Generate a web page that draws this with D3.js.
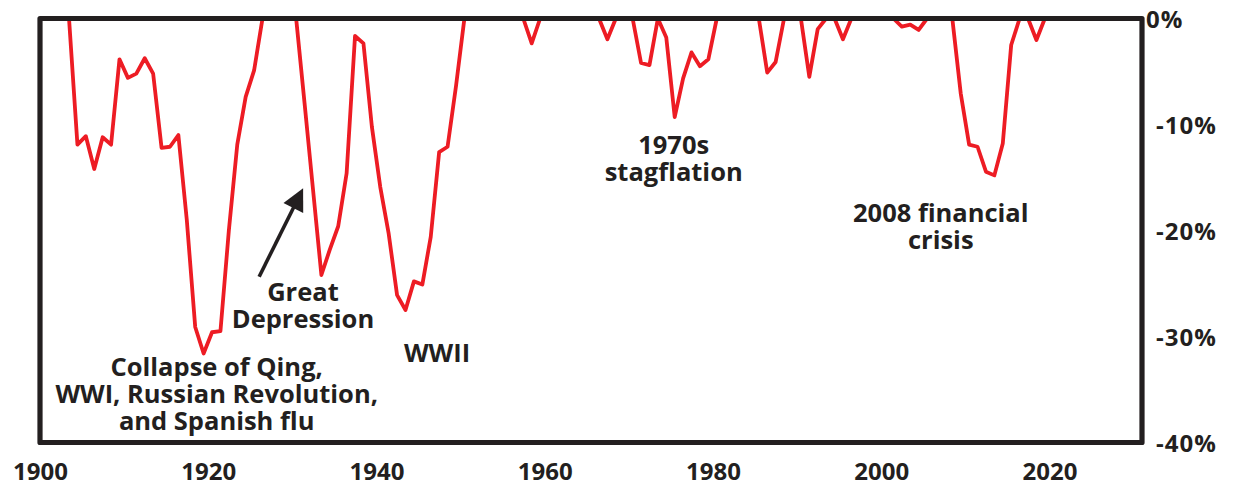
<!DOCTYPE html>
<html>
<head>
<meta charset="utf-8">
<script src="https://cdn.jsdelivr.net/npm/d3@7"></script>
<style>
  html, body { margin: 0; padding: 0; background: #fff; }
  svg { display: block; }
  text { font-family: "Open Sans", "Lato", sans-serif; font-weight: 700; fill: #231f20; }
</style>
</head>
<body>
<svg id="chart" width="1234" height="483"></svg>
<script>
// ---- Data ----
const years = d3.range(1900, 2021);
const drawdown = [
  0, 0, 0, 0, -11.9, -11.1, -14.2, -11.2, -11.9, -3.85,          // 1900-1909
  -5.6, -5.2, -3.75, -5.2, -12.2, -12.1, -11.0, -19.0, -29.1, -31.6, // 1910-1919
  -29.6, -29.5, -20.0, -11.9, -7.4, -4.9, 0, 0, 0, 0,            // 1920-1929
  0, -8.0, -16.1, -24.2, -21.8, -19.6, -14.6, -1.65, -2.35, -10.2, // 1930-1939
  -15.9, -20.3, -26.1, -27.5, -24.8, -25.1, -20.6, -12.6, -12.1, -6.4, // 1940-1949
  0, 0, 0, 0, 0, 0, 0, 0, -2.35, 0,                              // 1950-1959
  0, 0, 0, 0, 0, 0, 0, -1.96, 0, 0,                              // 1960-1969
  0, -4.2, -4.4, 0, -1.8, -9.3, -5.65, -3.2, -4.5, -3.85,        // 1970-1979
  0, 0, 0, 0, 0, 0, -5.1, -4.1, 0, 0,                            // 1980-1989
  0, -5.5, -1.0, 0, 0, -1.96, 0, 0, 0, 0,                        // 1990-1999
  0, 0, -0.77, -0.58, -1.08, 0, 0, 0, 0, -7.06,                  // 2000-2009
  -11.9, -12.1, -14.45, -14.8, -11.8, -2.5, 0, 0, -2.03, 0,      // 2010-2019
  0                                                              // 2020
];
const xTicks = [1900, 1920, 1940, 1960, 1980, 2000, 2020];
const yTicks = [0, -10, -20, -30, -40];
const yTickLabels = ["0%", "-10%", "-20%", "-30%", "-40%"];
const annotationTexts = [
  ["Collapse of Qing,", "WWI, Russian Revolution,", "and Spanish flu"],
  ["Great", "Depression"],
  ["WWII"],
  ["1970s", "stagflation"],
  ["2008 financial", "crisis"]
];
// anchors in data units (year, value) for first baseline
const annotationYears = [1921.0, 1931.26, 1947.2, 1975.33, 2007.08];
const annotationValues = [-33.73, -26.62, -32.38, -12.81, -19.23];
const arrowFrom = { year: 1926.05, value: -24.36 };
const arrowTo = { year: 1931.28, value: -16.02 };

// ---- Layout ----
const svg = d3.select("#chart");
const mLeft = 40, mRight = 1142, mTop = 18.5, mBottom = 442.5;
const x = d3.scaleLinear().domain([1900, 2031]).range([mLeft, mRight]);
const y = d3.scaleLinear().domain([0, -40]).range([mTop, mBottom]);
const yearOffset = 0.45;
const ink = "#231f20";
const red = "#ed1c24";

const series = years.map((yr, i) => ({ year: yr, value: drawdown[i] }));

const line = d3.line()
  .x(d => x(d.year + yearOffset))
  .y(d => y(Math.min(0, d.value)));

svg.append("defs").append("clipPath").attr("id", "clip")
  .append("rect").attr("x", mLeft).attr("y", mTop - 2).attr("width", mRight - mLeft).attr("height", mBottom - mTop + 2);

svg.append("path")
  .datum(series)
  .attr("d", line)
  .attr("fill", "none")
  .attr("stroke", red)
  .attr("stroke-width", 3.8)
  .attr("stroke-linejoin", "round")
  .attr("clip-path", "url(#clip)");

// frame
svg.append("rect")
  .attr("x", mLeft).attr("y", mTop)
  .attr("width", mRight - mLeft).attr("height", mBottom - mTop)
  .attr("fill", "none")
  .attr("stroke", ink)
  .attr("stroke-width", 5.2)
  .attr("stroke-linejoin", "round");

// x axis labels
const xAxis = d3.axisBottom(x).tickValues(xTicks).tickFormat(d3.format("d")).tickSize(0).tickPadding(0);
const gx = svg.append("g").attr("transform", `translate(0,${mBottom})`).call(xAxis);
gx.select(".domain").remove();
gx.selectAll("text")
  .attr("y", 37).attr("dy", null)
  .style("font-family", '"Open Sans", sans-serif')
  .style("font-weight", 700)
  .style("font-size", "24px")
  .attr("fill", ink);

// y axis labels
const yAxis = d3.axisRight(y).tickValues(yTicks).tickFormat((d, i) => yTickLabels[i]).tickSize(0).tickPadding(0);
const gy = svg.append("g").attr("transform", `translate(${mRight},0)`).call(yAxis);
gy.select(".domain").remove();
gy.selectAll("text")
  .attr("x", d => d === 0 ? 4 : 14)
  .attr("dy", "0.36em")
  .attr("text-anchor", "start")
  .style("font-family", '"Open Sans", sans-serif')
  .style("font-weight", 700)
  .style("font-size", "24px")
  .style("letter-spacing", "1px")
  .attr("fill", ink);

// annotations
const lineHeight = 27;
annotationTexts.forEach((lines, i) => {
  const t = svg.append("text")
    .attr("x", x(annotationYears[i]))
    .attr("y", y(annotationValues[i]))
    .attr("text-anchor", "middle")
    .style("font-size", "25.5px");
  lines.forEach((s, j) => {
    t.append("tspan")
      .attr("x", x(annotationYears[i]))
      .attr("dy", j === 0 ? 0 : lineHeight)
      .text(s);
  });
});

// arrow
const ax0 = x(arrowFrom.year), ay0 = y(arrowFrom.value);
const ax1 = x(arrowTo.year), ay1 = y(arrowTo.value);
const adx = ax1 - ax0, ady = ay1 - ay0, alen = Math.hypot(adx, ady);
const ux = adx / alen, uy = ady / alen;
const headLen = 22, headHalf = 11;
const bx = ax1 - ux * headLen, by = ay1 - uy * headLen;
svg.append("line")
  .attr("x1", ax0).attr("y1", ay0).attr("x2", bx + ux * 2).attr("y2", by + uy * 2)
  .attr("stroke", ink).attr("stroke-width", 3.6);
svg.append("path")
  .attr("d", `M${ax1},${ay1}L${bx - uy * headHalf},${by + ux * headHalf}L${bx + uy * headHalf},${by - ux * headHalf}Z`)
  .attr("fill", ink);
</script>
</body>
</html>
